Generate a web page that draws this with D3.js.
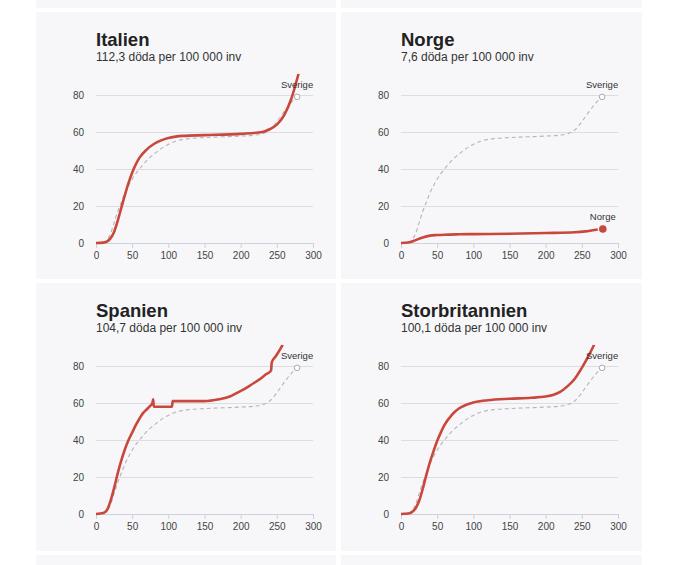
<!DOCTYPE html>
<html>
<head>
<meta charset="utf-8">
<script src="https://cdn.jsdelivr.net/npm/d3@7"></script>
<style>
  body { margin: 0; background: #fff; }
  svg { display: block; font-family: "Liberation Sans", Arial, sans-serif; }
</style>
</head>
<body>
<div id="chart"></div>
<script>
// [dag, döda per 100 000 inv]
const sverige = [[0,0],[10,0.3],[15,1.5],[20,5],[25,11],[30,17],[35,22],[40,27],[45,31],[50,34.5],[55,37.5],[60,40],[70,44.5],[80,48],[90,51],[100,53.3],[110,55],[120,56],[130,56.5],[150,57],[175,57.4],[200,57.8],[220,58.3],[230,59],[240,61],[250,65.5],[260,71],[270,76],[278,79]];
const italien = [[0,0],[10,0.2],[15,0.8],[20,2.5],[25,6],[30,12],[35,19],[40,26],[45,32.5],[50,38],[55,42.5],[60,46],[70,50.5],[80,53.5],[90,55.5],[100,56.8],[110,57.5],[120,57.9],[150,58.3],[200,59],[230,60],[240,61.5],[250,64],[260,69],[270,78],[280,91.5]];
const norge = [[0,0],[10,0.3],[18,1.2],[25,2.3],[30,3],[40,4],[50,4.3],[60,4.5],[80,4.7],[100,4.8],[150,5],[200,5.4],[240,5.8],[255,6.3],[265,6.9],[272,7.3]];
const spanien = [[0,0],[10,0.5],[15,2],[20,7],[25,14],[30,22],[35,29],[40,35],[45,40],[50,44],[55,48],[60,51.5],[65,54.5],[70,56.5],[75,58.5],[78,60],[79,62],[80,58],[105,58],[106,61],[150,61],[170,62],[185,63.5],[195,65.5],[205,67.5],[215,70],[225,72.5],[235,75.5],[242,77.5],[243,82],[248,85],[253,88],[258,91.5]];
const storbritannien = [[0,0],[10,0.3],[15,1],[20,3],[25,7],[30,13.5],[35,21],[40,28],[45,34],[50,39.5],[55,44],[60,48],[70,53.5],[80,57],[90,59],[100,60.3],[120,61.5],[150,62.3],[180,62.8],[200,63.5],[210,64.3],[220,66],[230,69],[240,73],[250,79],[260,86],[267,91.5]];

const countries = ["Italien", "Norge", "Spanien", "Storbritannien"];
const subtitles = ["112,3 döda per 100 000 inv", "7,6 döda per 100 000 inv", "104,7 döda per 100 000 inv", "100,1 döda per 100 000 inv"];
const series = [italien, norge, spanien, storbritannien];
const endDot = [null, [279, 7.6], null, null];

const xTicks = [0, 50, 100, 150, 200, 250, 300];
const yTicks = [0, 20, 40, 60, 80];

const W = 700, H = 565;
const red = "#c9473b";

const svg = d3.select("#chart").append("svg")
  .attr("width", W).attr("height", H);

const panels = [
  {x: 36, y: 12, w: 300, h: 267},
  {x: 341, y: 12, w: 301, h: 267},
  {x: 36, y: 283, w: 300, h: 268},
  {x: 341, y: 283, w: 301, h: 268}
];

// top & bottom strips from the neighbouring panels
[[36, -260, 300], [341, -260, 301], [36, 555, 300], [341, 555, 301]].forEach(([x, y, w]) => {
  svg.append("rect").attr("x", x).attr("y", y).attr("width", w).attr("height", 268).attr("fill", "#f7f7f9");
});

const x = d3.scaleLinear().domain([0, 300]).range([60, 277]);
const y = d3.scaleLinear().domain([0, 80]).range([231, 83]);

const line = d3.line()
  .x(d => x(d[0]))
  .y(d => y(d[1]))
  .curve(d3.curveMonotoneX);

countries.forEach((name, i) => {
  const p = panels[i];
  const g = svg.append("g").attr("transform", `translate(${p.x},${p.y})`);

  g.append("rect").attr("width", p.w).attr("height", p.h).attr("fill", "#f7f7f9");

  g.append("defs").append("clipPath").attr("id", "clip" + i)
    .append("rect").attr("x", 50).attr("y", y(91.5)).attr("width", 240).attr("height", y(0) - y(91.5) + 10);

  g.append("text").attr("x", 60).attr("y", 33.5)
    .attr("font-size", 18.5).attr("font-weight", "bold").attr("fill", "#222")
    .text(name);
  g.append("text").attr("x", 60).attr("y", 48.5)
    .attr("font-size", 12).attr("fill", "#333")
    .text(subtitles[i]);

  // y gridlines + labels
  const yAxis = g.append("g").attr("transform", `translate(${x(0)},0)`)
    .call(d3.axisLeft(y).tickValues(yTicks).tickSize(-(x(300) - x(0))).tickPadding(12));
  yAxis.select(".domain").remove();
  yAxis.selectAll(".tick line").attr("stroke", "#dcdce2");
  yAxis.selectAll(".tick text").attr("font-size", 10).attr("fill", "#444").attr("font-family", "Liberation Sans, Arial, sans-serif");

  const xAxis = g.append("g").attr("transform", `translate(0,${y(0)})`)
    .call(d3.axisBottom(x).tickValues(xTicks).tickSize(5).tickPadding(4));
  xAxis.select(".domain").attr("stroke", "#d0d0d8");
  xAxis.selectAll(".tick line").attr("stroke", "#d0d0d8");
  xAxis.selectAll(".tick text").attr("font-size", 10).attr("fill", "#444").attr("font-family", "Liberation Sans, Arial, sans-serif");

  const plot = g.append("g").attr("clip-path", `url(#clip${i})`);

  plot.append("path").datum(sverige)
    .attr("d", line).attr("fill", "none")
    .attr("stroke", "#b4b4ba").attr("stroke-width", 1.1).attr("stroke-dasharray", "4,3");

  const last = sverige[sverige.length - 1];
  g.append("circle").attr("cx", x(last[0])).attr("cy", y(last[1])).attr("r", 2.8)
    .attr("fill", "#fff").attr("stroke", "#a8a8ae").attr("stroke-width", 1);
  g.append("text").attr("x", x(last[0])).attr("y", y(last[1]) - 8.5)
    .attr("text-anchor", "middle").attr("font-size", 9.5).attr("fill", "#333")
    .text("Sverige");

  plot.append("path").datum(series[i])
    .attr("d", line).attr("fill", "none")
    .attr("stroke", red).attr("stroke-width", 2.6).attr("stroke-linejoin", "round");

  if (endDot[i]) {
    g.append("circle").attr("cx", x(endDot[i][0])).attr("cy", y(endDot[i][1])).attr("r", 3.8)
      .attr("fill", red);
    g.append("text").attr("x", x(endDot[i][0])).attr("y", y(endDot[i][1]) - 8.5)
      .attr("text-anchor", "middle").attr("font-size", 9.5).attr("fill", "#333")
      .text(name);
  }
});
</script>
</body>
</html>
